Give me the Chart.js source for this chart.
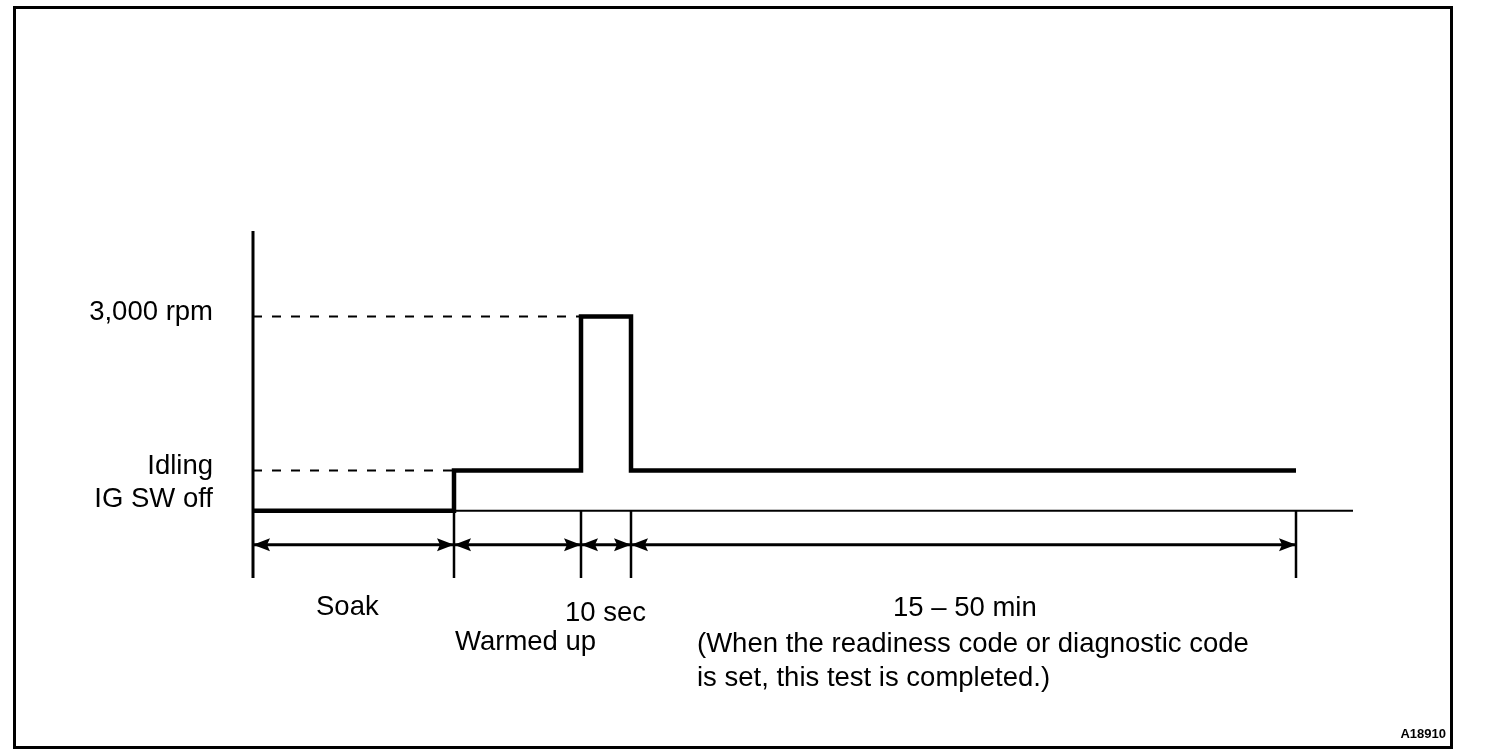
<!DOCTYPE html>
<html>
<head>
<meta charset="utf-8">
<script src="https://cdn.jsdelivr.net/npm/chart.js@4/dist/chart.umd.min.js"></script>
<style>
  html, body { margin: 0; padding: 0; background: #ffffff; }
  #wrap { width: 1504px; height: 756px; position: relative; }
  canvas { display: block; }
</style>
</head>
<body>
<div id="wrap"><canvas id="c" width="1504" height="756"></canvas></div>
<script>
// ---- data ----
const levelLabels = ['IG SW off', 'Idling', '3,000 rpm'];
const levelValues = [0, 620, 3000];                 // rpm
const phaseBounds = [0, 20.1, 32.8, 37.8, 104.3];   // time (arbitrary units)
const signalLevels = [0, 620, 3000, 620, 620];      // rpm reached at each bound
const phaseNames = ['Soak', 'Warmed up', '10 sec', '15 – 50 min'];
const noteLines = ['(When the readiness code or diagnostic code', 'is set, this test is completed.)'];
const figureId = 'A18910';
const xMax = 110, yMin = -1040, yMax = 4320, dimLevel = -525;

const FONT = '"Liberation Sans", Arial, Helvetica, sans-serif';

// ---- build datasets ----
const signal = phaseBounds.map((x, i) => ({ x, y: signalLevels[i] }));
const baseline = [{ x: 0, y: 0 }, { x: xMax, y: 0 }];
const axisLine = [{ x: 0, y: yMin }, { x: 0, y: yMax }];
const dashTop = [{ x: 0, y: levelValues[2] }, { x: phaseBounds[2], y: levelValues[2] }];
const dashIdle = [{ x: 0, y: levelValues[1] }, { x: phaseBounds[1], y: levelValues[1] }];
const ticks = [];
phaseBounds.slice(1).forEach(b => { ticks.push({ x: b, y: 0 }, { x: b, y: yMin }, { x: b, y: null }); });

const black = '#000000';
const base = { pointRadius: 0, fill: false, borderColor: black, tension: 0, borderCapStyle: 'butt', clip: false };

const annot = {
  id: 'annot',
  afterDatasetsDraw(chart) {
    const ctx = chart.ctx;
    const xs = chart.scales.x, ys = chart.scales.y;
    ctx.save();
    // border frame
    ctx.strokeStyle = black; ctx.lineWidth = 3;
    ctx.strokeRect(14.5, 7.5, 1437, 740);
    // dimension arrows
    const yy = ys.getPixelForValue(dimLevel);
    ctx.lineWidth = 3; ctx.fillStyle = black;
    for (let i = 0; i < phaseBounds.length - 1; i++) {
      const a = xs.getPixelForValue(phaseBounds[i]);
      const b = xs.getPixelForValue(phaseBounds[i + 1]);
      ctx.beginPath(); ctx.moveTo(a, yy); ctx.lineTo(b, yy); ctx.stroke();
      const L = 17, W = 6.5;
      ctx.beginPath(); ctx.moveTo(a, yy); ctx.lineTo(a + L, yy - W); ctx.lineTo(a + L - 3, yy); ctx.lineTo(a + L, yy + W); ctx.closePath(); ctx.fill();
      ctx.beginPath(); ctx.moveTo(b, yy); ctx.lineTo(b - L, yy - W); ctx.lineTo(b - L + 3, yy); ctx.lineTo(b - L, yy + W); ctx.closePath(); ctx.fill();
    }
    // level labels
    ctx.font = '27.5px ' + FONT;
    ctx.textAlign = 'right'; ctx.textBaseline = 'middle';
    const off = [-11, -4, -4];
    levelLabels.forEach((t, i) => {
      ctx.fillText(t, 213, ys.getPixelForValue(levelValues[i]) + off[i]);
    });
    // phase labels
    ctx.textAlign = 'left'; ctx.textBaseline = 'middle';
    const px = (v) => xs.getPixelForValue(v);
    ctx.fillText(phaseNames[0], 316, 607);
    ctx.fillText(phaseNames[1], px(phaseBounds[1]) + 1, 642);
    ctx.fillText(phaseNames[2], 565, 613);
    ctx.fillText(phaseNames[3], 893, 608);
    ctx.fillText(noteLines[0], 697, 644);
    ctx.fillText(noteLines[1], 697, 678);
    // figure id
    ctx.font = 'bold 13px ' + FONT;
    ctx.textAlign = 'right';
    ctx.fillText(figureId, 1446, 734);
    ctx.restore();
  }
};

new Chart(document.getElementById('c'), {
  type: 'line',
  data: {
    datasets: [
      { ...base, data: signal, borderWidth: 4.5, stepped: true, borderJoinStyle: 'miter' },
      { ...base, data: baseline, borderWidth: 2 },
      { ...base, data: axisLine, borderWidth: 3 },
      { ...base, data: dashTop, borderWidth: 2, borderDash: [9, 10] },
      { ...base, data: dashIdle, borderWidth: 2, borderDash: [9, 10] },
      { ...base, data: ticks, borderWidth: 2.5, spanGaps: false }
    ]
  },
  options: {
    responsive: false,
    animation: false,
    events: [],
    layout: { padding: { left: 253, right: 1504 - 1353, top: 231, bottom: 756 - 578 } },
    plugins: { legend: { display: false }, tooltip: { enabled: false }, title: { display: false } },
    scales: {
      x: { type: 'linear', min: 0, max: xMax, display: false },
      y: { type: 'linear', min: yMin, max: yMax, display: false }
    }
  },
  plugins: [annot]
});
</script>
</body>
</html>
